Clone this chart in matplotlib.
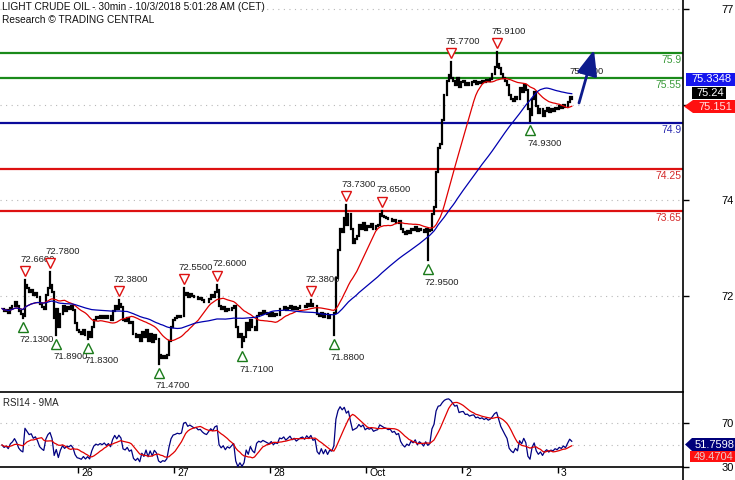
import numpy as np
import pandas as pd
import matplotlib
matplotlib.use("Agg")
import matplotlib.pyplot as plt
from matplotlib.transforms import offset_copy, ScaledTranslation
from matplotlib.patches import Polygon
from matplotlib.lines import Line2D

# ---------------- data ----------------
closes = [
    72.26, 72.22, 72.24, 72.20, 72.27,
    72.30, 72.35, 72.30,
    72.22, 72.18, 72.16,
    72.60, 72.55, 72.50, 72.52, 72.45, 72.48,
    72.42, 72.32, 72.28, 72.25,
    72.45, 72.55, 72.60,
    72.50, 72.12, 72.25, 72.00, 72.18,
    72.30, 72.22, 72.28, 72.26, 72.30, 72.24,
    72.05, 71.95,
    71.93, 71.90, 71.95, 71.88, 71.92, 71.86,
    72.00, 72.10, 72.14,
    72.12, 72.15, 72.13, 72.16, 72.12, 72.15, 72.10,
    72.22, 72.30, 72.25, 72.32, 72.28,
    72.10, 72.08, 72.12, 72.05, 72.07,
    71.90, 71.85,
    71.88, 71.80, 71.92, 71.85, 71.95, 71.80, 71.90, 71.78, 71.88,
    71.82, 71.60,
    71.55, 71.58, 71.56, 71.60,
    71.80, 72.00, 72.10,
    72.12, 72.15, 72.14, 72.16,
    72.45, 72.48, 72.42, 72.46, 72.44, 72.42, 72.43, 72.40, 72.41, 72.38, 72.36,
    72.35, 72.40, 72.45, 72.43, 72.50, 72.52,
    72.30, 72.25, 72.28, 72.22, 72.26, 72.24, 72.27, 72.30,
    72.00, 71.85, 71.90, 71.80, 71.85,
    72.05, 71.95, 72.10, 72.00, 71.95,
    72.15, 72.20, 72.18, 72.22, 72.20,
    72.18, 72.16, 72.20, 72.15, 72.18, 72.17,
    72.26, 72.25, 72.28, 72.24, 72.27, 72.30, 72.26, 72.28, 72.25, 72.27, 72.29,
    72.30, 72.28, 72.32, 72.30, 72.33, 72.29, 72.30,
    72.18, 72.15, 72.20, 72.14, 72.18, 72.12, 72.16, 72.15,
    72.20, 72.70, 73.10,
    73.40, 73.35, 73.55, 73.45, 73.60,
    73.40, 73.20, 73.25,
    73.30, 73.45, 73.40, 73.48, 73.38, 73.44, 73.42, 73.46, 73.40, 73.43,
    73.45, 73.60,
    73.58, 73.56, 73.55, 73.53, 73.54, 73.50, 73.52, 73.48, 73.50,
    73.40, 73.35, 73.32, 73.36, 73.34,
    73.40, 73.38, 73.42, 73.36, 73.40, 73.38, 73.35, 73.40, 73.36,
    73.38, 73.60, 73.70,
    74.20, 74.55, 74.60,
    74.95, 75.30, 75.50,
    75.58, 75.55,
    75.50, 75.45, 75.55, 75.42, 75.48, 75.50, 75.45, 75.47, 75.44, 75.48,
    75.50, 75.46, 75.49, 75.47, 75.50, 75.48, 75.52, 75.50,
    75.53, 75.60, 75.70, 75.75, 75.68,
    75.60, 75.55, 75.50,
    75.45, 75.30, 75.25, 75.22, 75.28,
    75.24, 75.40, 75.35, 75.45, 75.38,
    75.10, 75.02, 75.25, 75.35,
    75.15, 75.05, 75.10, 75.00, 75.08,
    75.12, 75.06, 75.10, 75.08, 75.12, 75.10,
    75.14, 75.12, 75.16, 75.13,
    75.20, 75.27, 75.24,
]

high_mark_idx = [11, 23, 56, 87, 103, 148, 165, 182, 215, 237]
high_mark_val = [72.66, 72.78, 72.38, 72.55, 72.60, 72.38, 73.73, 73.65, 75.77, 75.91]
low_mark_idx = [10, 26, 41, 75, 115, 159, 204, 253]
low_mark_val = [72.13, 71.89, 71.83, 71.47, 71.71, 71.88, 72.95, 74.93]

level_values = [75.9, 75.55, 74.9, 74.25, 73.65]
level_labels = ["75.9", "75.55", "74.9", "74.25", "73.65"]
level_kinds = ["res", "res", "piv", "sup", "sup"]

target_label = "75.3300"
day_labels = ["26", "27", "28", "Oct", "2", "3"]
price_tick_labels = ["77", "", "74", "72"]
rsi_tick_values = [70, 30]
rsi_grid_values = [70, 50]

last_labels_price = ["75.3348", "75.24", "75.151"]
last_labels_rsi = ["51.7598", "49.4704"]

# ---------------- geometry ----------------
W, H = 735, 480
fig = plt.figure(figsize=(W / 100, H / 100), dpi=100)
fig.patch.set_facecolor("white")
plt.rcParams["font.family"] = ["Liberation Sans", "DejaVu Sans"]

def fx(x):
    return x / W

def fy(y):
    return 1 - y / H

px_per_unit = 70.2
ref_price, ref_y = 75.9, 53.0
def price_at(y):
    return ref_price - (y - ref_y) / px_per_unit

bar_px = 2.087
def idx_at(x):
    return (x - 2) / bar_px

right_px = 683
ax = fig.add_axes([0, fy(391), fx(right_px), 391 / H])
ax2 = fig.add_axes([0, fy(467), fx(right_px), 75 / H])

n = len(closes)
idx = np.arange(n)
c = np.array(closes)
o = np.concatenate([[c[0]], c[:-1]])
hi = np.maximum(o, c)
lo = np.minimum(o, c)
for i, v in zip(high_mark_idx, high_mark_val):
    hi[i] = max(hi[i], v)
for i, v in zip(low_mark_idx, low_mark_val):
    lo[i] = min(lo[i], v)

xmin, xmax = idx_at(0), idx_at(right_px)
ax.set_xlim(xmin, xmax)
ax.set_ylim(price_at(391), price_at(0))

# grid
ytick_pos = [price_at(y) for y in (9, 105, 200, 296)]
for yv in ytick_pos:
    ax.axhline(yv, color="#b8b8b8", lw=0.8, ls=(0, (1, 4)), zorder=0)

# level lines
kind_color = {"res": "#1a8a1a", "piv": "#0a0a9a", "sup": "#dd1111"}
kind_tcolor = {"res": "#3a9a3a", "piv": "#2a2ab0", "sup": "#d42a2a"}
for v, lab, k in zip(level_values, level_labels, level_kinds):
    ax.axhline(v, color=kind_color[k], lw=1.6, zorder=1)
    ax.text(xmax - 0.8, v, lab, color=kind_tcolor[k], fontsize=7.5,
            ha="right", va="top",
            transform=offset_copy(ax.transData, fig=fig, x=0, y=-2, units="dots"))

# candles
ax.vlines(idx, lo, hi, color="black", lw=1.6, zorder=3, capstyle="projecting")

# moving averages
s = pd.Series(c)
ma_fast = s.rolling(20, min_periods=1).mean()
ma_slow = s.rolling(50, min_periods=1).mean()
ax.plot(idx, ma_fast, color="#e00000", lw=0.9, zorder=4)
ax.plot(idx, ma_slow, color="#0000b0", lw=0.9, zorder=4)

# marks
for i, v in zip(high_mark_idx, high_mark_val):
    ax.plot(i, v, marker="v", ms=7, mfc="white", mec="#dd1111", mew=1.0,
            transform=offset_copy(ax.transData, fig=fig, x=0, y=9, units="dots"), zorder=6)
    ax.text(i, v, f"{v:.4f}", fontsize=6.8, color="#222222", ha="left", va="center",
            transform=offset_copy(ax.transData, fig=fig, x=-5, y=21, units="dots"), zorder=6)
for i, v in zip(low_mark_idx, low_mark_val):
    ax.plot(i, v, marker="^", ms=7, mfc="white", mec="#1a7a1a", mew=1.0,
            transform=offset_copy(ax.transData, fig=fig, x=0, y=-9, units="dots"), zorder=6)
    ax.text(i, v, f"{v:.4f}", fontsize=6.8, color="#222222", ha="left", va="center",
            transform=offset_copy(ax.transData, fig=fig, x=-3, y=-22, units="dots"), zorder=6)

# target label + arrow
ax.text(idx_at(569), price_at(72), target_label, fontsize=6.8, color="#222222",
        ha="left", va="center", zorder=5)
ax.annotate("", xy=(idx_at(594), price_at(50)), xytext=(idx_at(579), price_at(103)),
            arrowprops=dict(arrowstyle="-|>,head_width=0.45,head_length=1.1",
                            color="#0d1b8c", lw=2.0, mutation_scale=14,
                            shrinkA=0, shrinkB=0), zorder=7)

# axes styling
for sp in ("left", "top", "bottom"):
    ax.spines[sp].set_visible(False)
ax.spines["right"].set_linewidth(1.2)
ax.set_xticks([])
ax.yaxis.tick_right()
ax.set_yticks(ytick_pos)
ax.set_yticklabels(price_tick_labels)
ax.tick_params(axis="y", length=4, width=1, pad=24, labelsize=8, colors="black")

# ---------------- RSI (Wilder, 14) ----------------
period = 14
delta = np.diff(c, prepend=c[0])
seed = np.abs(delta[1:period + 1]).mean() / 2
ag, al = seed, seed
rsi_vals = []
for d in delta:
    ag = (ag * (period - 1) + max(d, 0)) / period
    al = (al * (period - 1) + max(-d, 0)) / period
    rsi_vals.append(100 - 100 / (1 + ag / al) if al > 0 else 100)
rsi = pd.Series(rsi_vals)
rsi_ma = rsi.rolling(9, min_periods=1).mean()

ax2.set_xlim(xmin, xmax)
ax2.set_ylim(30, 50 + (445 - 392) / 1.1)
for g in rsi_grid_values:
    ax2.axhline(g, color="#b8b8b8", lw=0.8, ls=(0, (1, 4)), zorder=0)
ax2.plot(idx, rsi, color="#000080", lw=0.9, zorder=3)
ax2.plot(idx, rsi_ma, color="#e00000", lw=0.9, zorder=4)
ax2.text(0.004, 0.86, "RSI14 - 9MA", transform=ax2.transAxes, fontsize=7,
         ha="left", va="center", color="#222222")

ax2.spines["left"].set_visible(False)
for sp in ("top", "bottom", "right"):
    ax2.spines[sp].set_linewidth(1.2)
ax2.yaxis.tick_right()
ax2.set_yticks(rsi_tick_values)
ax2.set_yticklabels([str(v) for v in rsi_tick_values])
ax2.tick_params(axis="y", length=4, width=1, pad=24, labelsize=8)

day_pos = [idx_at(78) + 46 * k for k in range(len(day_labels))]
ax2.set_xticks(day_pos)
ax2.set_xticklabels(day_labels, ha="left")
ax2.tick_params(axis="x", length=4, width=1, pad=-3.2, labelsize=7.5)
for lbl in ax2.get_xticklabels():
    lbl.set_transform(lbl.get_transform() + ScaledTranslation(3 / 100, 0, fig.dpi_scale_trans))

# continuation of right border
fig.add_artist(Line2D([fx(right_px), fx(right_px)], [fy(467), fy(480)],
                      color="black", lw=1.2, transform=fig.transFigure))

# ---------------- right side value boxes ----------------
def box(x0, x1, y0, y1, color, text, tcolor, tip=None):
    pts = [(x0, y0), (x1, y0), (x1, y1), (x0, y1)]
    if tip is not None:
        pts = [(x0, y0), (x1, y0), (x1, y1), (x0, y1), (tip, (y0 + y1) / 2)]
    pts = [(fx(a), fy(b)) for a, b in pts]
    fig.add_artist(Polygon(pts, closed=True, facecolor=color, edgecolor="none",
                           transform=fig.transFigure, zorder=10))
    fig.text(fx((x0 + x1) / 2 + 1), fy((y0 + y1) / 2), text, color=tcolor,
             fontsize=8, ha="center", va="center", zorder=11)

box(686, 735, 73, 86, "#1515ee", last_labels_price[0], "white")
box(692, 726, 87, 99, "#000000", last_labels_price[1], "white")
box(693, 735, 100, 113, "#ff1010", last_labels_price[2], "#ffe0e0", tip=684)
box(692, 735, 438, 451, "#00007a", last_labels_rsi[0], "white", tip=685)
box(690, 735, 451, 462, "#ff1010", last_labels_rsi[1], "#e8c8c8")

# ---------------- title ----------------
fig.text(fx(2), fy(7), "LIGHT CRUDE OIL - 30min - 10/3/2018 5:01:28 AM (CET)",
         fontsize=7.3, ha="left", va="center", color="#111111")
fig.text(fx(2), fy(20), "Research \u00a9 TRADING CENTRAL",
         fontsize=7.3, ha="left", va="center", color="#111111")

fig.savefig("out.png", dpi=100)
